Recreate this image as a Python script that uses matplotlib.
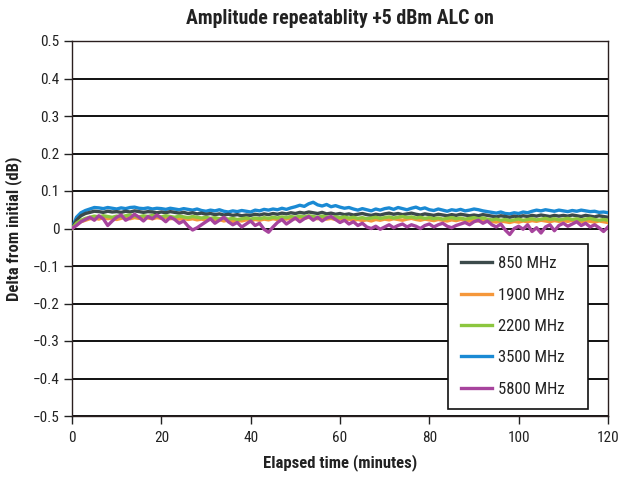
import matplotlib
matplotlib.use("Agg")
import matplotlib.pyplot as plt
from matplotlib import font_manager
import numpy as np

# ---------------- data ----------------
minutes = list(range(0, 121))

mhz_850 = [0.000, 0.022, 0.034, 0.040, 0.043, 0.046, 0.045, 0.043, 0.046, 0.044,
           0.045, 0.043, 0.046, 0.044, 0.047, 0.045, 0.043, 0.045, 0.044, 0.042,
           0.044, 0.042, 0.045, 0.043, 0.041, 0.043, 0.040, 0.042, 0.039, 0.041,
           0.038, 0.040, 0.037, 0.039, 0.036, 0.038, 0.035, 0.037, 0.034, 0.036,
           0.035, 0.038, 0.036, 0.039, 0.037, 0.040, 0.038, 0.041, 0.039, 0.042,
           0.040, 0.043, 0.041, 0.044, 0.042, 0.040, 0.043, 0.039, 0.041, 0.038,
           0.040, 0.037, 0.039, 0.036, 0.038, 0.040, 0.037, 0.035, 0.038, 0.036,
           0.039, 0.041, 0.038, 0.040, 0.037, 0.039, 0.041, 0.038, 0.036, 0.039,
           0.037, 0.035, 0.038, 0.036, 0.034, 0.037, 0.035, 0.038, 0.036, 0.034,
           0.036, 0.034, 0.037, 0.035, 0.033, 0.031, 0.034, 0.032, 0.030, 0.033,
           0.031, 0.034, 0.032, 0.035, 0.033, 0.036, 0.034, 0.032, 0.035, 0.033,
           0.035, 0.033, 0.036, 0.034, 0.032, 0.035, 0.033, 0.031, 0.034, 0.032,
           0.030]

mhz_1900 = [0.000, 0.010, 0.018, 0.022, 0.026, 0.028, 0.025, 0.029, 0.026, 0.028,
            0.024, 0.027, 0.030, 0.026, 0.029, 0.027, 0.031, 0.028, 0.026, 0.029,
            0.027, 0.030, 0.026, 0.028, 0.025, 0.027, 0.024, 0.026, 0.023, 0.025,
            0.022, 0.025, 0.021, 0.024, 0.020, 0.023, 0.019, 0.022, 0.020, 0.023,
            0.021, 0.024, 0.022, 0.025, 0.023, 0.026, 0.024, 0.027, 0.025, 0.028,
            0.026, 0.029, 0.027, 0.030, 0.028, 0.026, 0.029, 0.025, 0.027, 0.024,
            0.026, 0.023, 0.025, 0.022, 0.024, 0.021, 0.023, 0.020, 0.024, 0.022,
            0.025, 0.023, 0.026, 0.024, 0.022, 0.025, 0.027, 0.024, 0.022, 0.025,
            0.023, 0.021, 0.024, 0.022, 0.020, 0.023, 0.021, 0.024, 0.022, 0.020,
            0.022, 0.020, 0.023, 0.021, 0.019, 0.017, 0.020, 0.018, 0.016, 0.019,
            0.017, 0.020, 0.018, 0.021, 0.019, 0.022, 0.020, 0.018, 0.021, 0.019,
            0.021, 0.019, 0.022, 0.020, 0.018, 0.021, 0.019, 0.017, 0.020, 0.018,
            0.016]

mhz_2200 = [0.000, 0.014, 0.022, 0.027, 0.030, 0.033, 0.031, 0.034, 0.032, 0.030,
            0.033, 0.031, 0.034, 0.036, 0.033, 0.031, 0.034, 0.032, 0.035, 0.033,
            0.031, 0.034, 0.032, 0.030, 0.033, 0.031, 0.029, 0.032, 0.030, 0.028,
            0.030, 0.027, 0.029, 0.026, 0.028, 0.025, 0.027, 0.024, 0.026, 0.028,
            0.025, 0.028, 0.026, 0.029, 0.027, 0.030, 0.028, 0.031, 0.029, 0.032,
            0.030, 0.033, 0.031, 0.034, 0.032, 0.030, 0.033, 0.031, 0.029, 0.031,
            0.029, 0.031, 0.028, 0.030, 0.027, 0.029, 0.026, 0.028, 0.030, 0.027,
            0.029, 0.031, 0.028, 0.030, 0.032, 0.029, 0.031, 0.028, 0.030, 0.027,
            0.029, 0.026, 0.028, 0.025, 0.027, 0.029, 0.026, 0.028, 0.025, 0.027,
            0.029, 0.026, 0.028, 0.025, 0.023, 0.025, 0.022, 0.024, 0.021, 0.023,
            0.025, 0.022, 0.024, 0.026, 0.023, 0.025, 0.027, 0.024, 0.026, 0.023,
            0.025, 0.027, 0.024, 0.026, 0.023, 0.025, 0.027, 0.024, 0.022, 0.024,
            0.022]

mhz_3500 = [0.000, 0.030, 0.042, 0.048, 0.052, 0.056, 0.055, 0.053, 0.056, 0.054,
            0.052, 0.055, 0.053, 0.056, 0.057, 0.054, 0.053, 0.055, 0.052, 0.054,
            0.053, 0.051, 0.054, 0.052, 0.050, 0.053, 0.051, 0.049, 0.052, 0.048,
            0.046, 0.049, 0.047, 0.050, 0.046, 0.044, 0.047, 0.045, 0.048, 0.046,
            0.044, 0.049, 0.047, 0.051, 0.049, 0.052, 0.050, 0.054, 0.051, 0.055,
            0.058, 0.062, 0.059, 0.066, 0.070, 0.063, 0.060, 0.064, 0.058, 0.061,
            0.057, 0.054, 0.056, 0.052, 0.049, 0.053, 0.050, 0.047, 0.052, 0.049,
            0.053, 0.055, 0.051, 0.056, 0.053, 0.050, 0.054, 0.057, 0.052, 0.055,
            0.050, 0.048, 0.052, 0.049, 0.046, 0.050, 0.048, 0.051, 0.047, 0.049,
            0.052, 0.050, 0.047, 0.045, 0.043, 0.041, 0.044, 0.040, 0.039, 0.042,
            0.040, 0.044, 0.042, 0.046, 0.049, 0.047, 0.050, 0.048, 0.046, 0.049,
            0.047, 0.045, 0.048, 0.046, 0.049, 0.047, 0.045, 0.046, 0.043, 0.044,
            0.042]

mhz_5800 = [0.000, 0.008, 0.018, 0.024, 0.030, 0.022, 0.034, 0.026, 0.008, 0.020,
            0.030, 0.036, 0.022, 0.028, 0.038, 0.030, 0.020, 0.032, 0.026, 0.036,
            0.028, 0.018, 0.030, 0.024, 0.014, 0.020, 0.006, -0.004, 0.002, 0.010,
            0.018, 0.026, 0.014, 0.022, 0.030, 0.018, 0.010, 0.016, 0.004, 0.012,
            0.020, 0.008, 0.014, -0.002, -0.010, 0.004, 0.016, 0.024, 0.012, 0.020,
            0.028, 0.018, 0.026, 0.032, 0.022, 0.030, 0.020, 0.028, 0.032, 0.024,
            0.016, 0.022, 0.012, 0.018, 0.008, 0.014, 0.004, 0.000, 0.006, -0.002,
            0.004, 0.010, 0.002, 0.008, 0.012, 0.004, 0.010, 0.006, 0.000, 0.008,
            0.012, 0.004, 0.010, 0.014, 0.006, 0.002, 0.008, 0.012, 0.016, 0.010,
            0.018, 0.022, 0.014, 0.020, 0.010, 0.004, 0.012, -0.004, -0.016, 0.000,
            0.006, -0.002, 0.010, -0.008, 0.002, -0.012, 0.004, 0.010, -0.006, 0.008,
            0.014, 0.006, 0.012, 0.018, 0.008, 0.014, 0.004, 0.010, 0.002, -0.008,
            0.004]

series_labels = ["850 MHz", "1900 MHz", "2200 MHz", "3500 MHz", "5800 MHz"]
y_ticks = [0.5, 0.4, 0.3, 0.2, 0.1, 0, -0.1, -0.2, -0.3, -0.4, -0.5]
y_tick_labels = ["0.5", "0.4", "0.3", "0.2", "0.1", "0", "\u22120.1", "\u22120.2",
                 "\u22120.3", "\u22120.4", "\u22120.5"]
x_ticks = [0, 20, 40, 60, 80, 100, 120]

# ---------------- style ----------------
available = sorted({f.name for f in font_manager.fontManager.ttflist})
narrow = [n for n in available if ("Narrow" in n or "Condensed" in n)]
preferred = ["Liberation Sans Narrow", "Roboto Condensed", "Open Sans Condensed",
             "Noto Sans Condensed", "DejaVu Sans Condensed"]
fam = None
for p in preferred:
    if p in available:
        fam = p
        break
if fam is None and narrow:
    fam = narrow[0]
if fam is None:
    fam = "Roboto" if "Roboto" in available else "DejaVu Sans"
plt.rcParams["font.family"] = [fam, "DejaVu Sans"]

colors = ["#3c4a4b", "#f5973a", "#8cc63f", "#1a8ad4", "#a7449d"]
series = [mhz_850, mhz_1900, mhz_2200, mhz_3500, mhz_5800]

fig = plt.figure(figsize=(6.2, 4.79), dpi=100)
ax = fig.add_axes([72 / 620, 1 - 416 / 479, (608 - 72) / 620, (416 - 41) / 479])

for yt in y_ticks:
    ax.axhline(yt, color="#111111", lw=1.4, zorder=1)

order = [3, 0, 1, 2, 4]
handles = {}
for i in order:
    (h,) = ax.plot(minutes, series[i], color=colors[i], lw=2.4, zorder=3,
                   solid_joinstyle="round", label=series_labels[i])
    handles[i] = h

ax.set_xlim(0, 120)
ax.set_ylim(-0.5, 0.5)
ax.set_xticks(x_ticks)
ax.set_xticklabels([str(v) for v in x_ticks])
ax.set_yticks(y_ticks)
ax.set_yticklabels(y_tick_labels)

for s in ax.spines.values():
    s.set_color("#2a1f1f")
    s.set_linewidth(1.0)
ax.tick_params(axis="both", which="major", direction="out", length=6, width=1.0,
               color="#222222", labelsize=11, labelcolor="#222222")
ax.tick_params(axis="y", pad=3)
ax.tick_params(axis="x", pad=5)

ax.set_title("Amplitude repeatablity +5 dBm ALC on", fontsize=14.3,
             fontweight="bold", color="#222222", pad=12)
ax.set_xlabel("Elapsed time (minutes)", fontsize=12, fontweight="bold",
              color="#222222", labelpad=6)
ax.set_ylabel("Delta from initial (dB)", fontsize=12, fontweight="bold",
              color="#222222")
ax.yaxis.set_label_coords(-0.094, 0.5)

leg = ax.legend([handles[i] for i in range(5)], series_labels,
                loc="lower left", mode="expand",
                bbox_to_anchor=((448 - 72) / 536, 7 / 375, 140 / 536, 164 / 375),
                frameon=True, fancybox=False, fontsize=12,
                handlelength=1.9, handletextpad=0.35, labelspacing=0.98,
                borderpad=0.75, borderaxespad=0.0)
leg.get_frame().set_edgecolor("#111111")
leg.get_frame().set_linewidth(1.2)
leg.get_frame().set_facecolor("white")
leg.get_frame().set_alpha(1.0)
leg.set_zorder(5)
for t in leg.get_texts():
    t.set_color("#222222")

fig.savefig("out.png", dpi=100, facecolor="white")
